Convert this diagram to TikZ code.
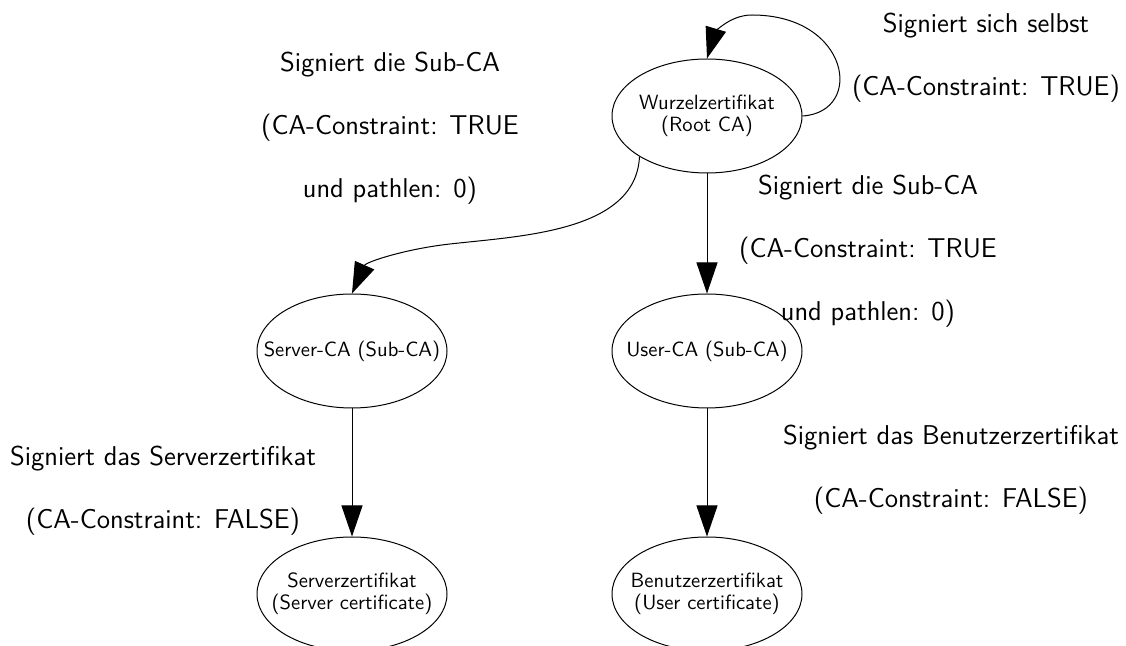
\documentclass[tikz,border=0pt]{standalone}
\usetikzlibrary{shapes.geometric,arrows.meta}
\begin{document}
\begin{tikzpicture}[x=0.5pt,y=-0.5pt,
  cert/.style={draw, ellipse, line width=0.5pt, minimum width=95pt, minimum height=57pt,
    inner sep=0pt},
  certtext/.style={align=center, inner sep=0pt, font=\sffamily\fontsize{10.3}{11}\selectfont},
  lbl/.style={align=center, inner sep=0pt, font=\sffamily\fontsize{13.6}{31.5}\selectfont},
  sig/.style={-{Triangle[length=15.5pt,width=10.5pt]}, line width=0.5pt}
]
\useasboundingbox (0,0) rectangle (1126,646);

% certificates (fixed-size ellipses, text set on top)
\node[cert] (root)  at (707,116) {};
\node[cert] (sca)   at (352,351) {};
\node[cert] (uca)   at (707,351) {};
\node[cert] (scert) at (352,594) {};
\node[cert] (ucert) at (707,594) {};
\node[certtext] (roott)  at (root)  {Wurzelzertifikat\\(Root CA)};
\node[certtext] (scat)   at (sca)   {Server-CA (Sub-CA)};
\node[certtext] (ucat)   at (uca)   {User-CA (Sub-CA)};
\node[certtext] (scertt) at (scert) {Serverzertifikat\\(Server certificate)};
\node[certtext] (ucertt) at (ucert) {Benutzerzertifikat\\(User certificate)};

% signing relations
\draw[sig] (root.east) .. controls (865,112) and (850,15) .. (752,15)
                       .. controls (728,15) and (714,35) .. (root.north);
\draw[sig] (root.south west) .. controls (636,232) and (520,236) .. (450,244)
                             .. controls (405,249) and (366,262) .. (sca.north);
\draw[sig] (root) -- (uca);
\draw[sig] (sca) -- (scert);
\draw[sig] (uca) -- (ucert);

% edge descriptions
\node[lbl] (selfl) at (986,58) {Signiert sich selbst\\(CA-Constraint: TRUE)};
\node[lbl] (scal)  at (390,128) {Signiert die Sub-CA\\(CA-Constraint: TRUE\\und pathlen: 0)};
\node[lbl] (ucal)  at (868,251) {Signiert die Sub-CA\\(CA-Constraint: TRUE\\und pathlen: 0)};
\node[lbl] (scertl) at (163,491) {Signiert das Serverzertifikat\\(CA-Constraint: FALSE)};
\node[lbl] (ucertl) at (951,470) {Signiert das Benutzerzertifikat\\(CA-Constraint: FALSE)};
\end{tikzpicture}
\end{document}
